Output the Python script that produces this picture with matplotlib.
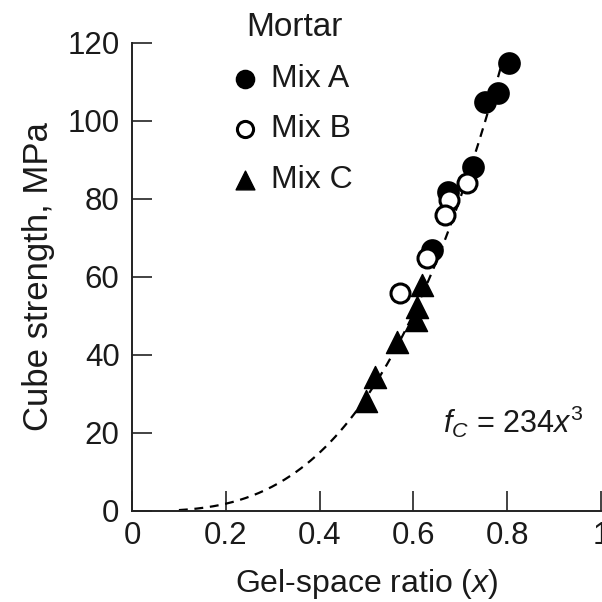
import numpy as np
import matplotlib
matplotlib.use("Agg")
import matplotlib.pyplot as plt

plt.rcParams['font.family'] = ['Liberation Sans', 'DejaVu Sans']
plt.rcParams['mathtext.fontset'] = 'custom'
plt.rcParams['mathtext.rm'] = 'Liberation Sans'
plt.rcParams['mathtext.it'] = 'Liberation Sans:italic'

# Data
mix_a_x = [0.804, 0.780, 0.753, 0.727, 0.674, 0.640]
mix_a_y = [114.9, 107.2, 104.9, 88.2, 81.8, 66.9]
mix_b_x = [0.714, 0.676, 0.667, 0.629, 0.571]
mix_b_y = [84.1, 79.7, 75.9, 64.9, 55.9]
mix_c_x = [0.618, 0.607, 0.605, 0.565, 0.518, 0.499]
mix_c_y = [58.0, 52.3, 49.0, 43.3, 34.4, 28.2]
fit_coef = 234
fit_x_range = (0.10, 0.79)

xticks = [0, 0.2, 0.4, 0.6, 0.8, 1]
xticklabels = ['0', '0.2', '0.4', '0.6', '0.8', '1']
yticks = [0, 20, 40, 60, 80, 100, 120]

W = H = 602
fig = plt.figure(figsize=(6.02, 6.02), dpi=100)
ax = fig.add_axes([132 / W, 91 / H, 469 / W, 468 / H])

tc = '#1a1a1a'

xc = np.linspace(fit_x_range[0], fit_x_range[1], 200)
ax.plot(xc, fit_coef * xc ** 3, color='black', lw=1.6, dashes=(4, 3), zorder=2)

ms = 220
ax.scatter(mix_a_x, mix_a_y, s=ms, marker='o', facecolor='black', edgecolor='black',
           linewidth=1.5, zorder=3, label='Mix A', clip_on=False)
ax.scatter(mix_b_x, mix_b_y, s=ms * 0.85, marker='o', facecolor='white', edgecolor='black',
           linewidth=2.2, zorder=4, label='Mix B', clip_on=False)
ax.scatter(mix_c_x, mix_c_y, s=ms * 1.15, marker='^', facecolor='black', edgecolor='black',
           linewidth=1, zorder=5, label='Mix C', clip_on=False)

ax.set_xlim(0, 1)
ax.set_ylim(0, 120)
ax.set_xticks(xticks)
ax.set_xticklabels(xticklabels)
ax.set_yticks(yticks)
for s in ['top', 'right']:
    ax.spines[s].set_visible(False)
for s in ['left', 'bottom']:
    ax.spines[s].set_linewidth(1.4)
    ax.spines[s].set_color('#222222')
ax.tick_params(direction='in', length=14.5, width=1.2, colors='#222222',
               labelcolor=tc)
ax.tick_params(axis='x', pad=7, labelsize=22.5)
ax.tick_params(axis='y', pad=9, labelsize=22.5)

ax.set_xlabel(r'Gel-space ratio ($x$)', fontsize=23, color=tc, labelpad=12)
ax.set_ylabel('Cube strength, MPa', fontsize=25, color=tc, labelpad=9)

ax.text(0.663, 20, r'$f_C$ = 234$x^3$', fontsize=22, color=tc, ha='left', va='baseline')

lfs = 23
fig.text(294 / W, 1 - 27 / H, 'Mortar', fontsize=24, color=tc, ha='center', va='center')
leg = ax.legend(loc='upper left', bbox_to_anchor=(229 / W, 1 - 64 / H),
                bbox_transform=fig.transFigure, frameon=False,
                fontsize=lfs, markerscale=0.85, handlelength=1.0,
                handletextpad=0.3, labelspacing=0.64, borderaxespad=0,
                borderpad=0)
for t in leg.get_texts():
    t.set_color(tc)

fig.savefig('out.png', dpi=100)
